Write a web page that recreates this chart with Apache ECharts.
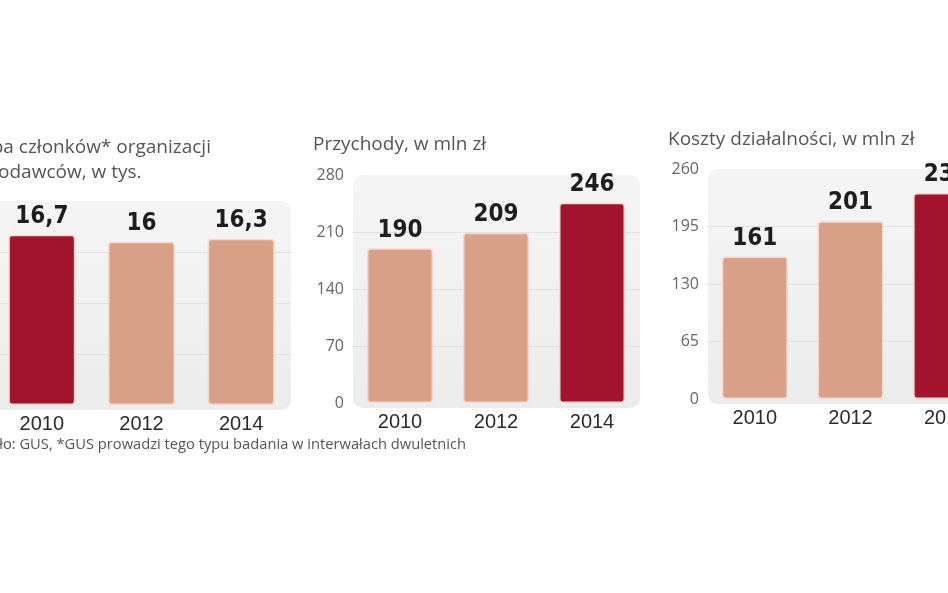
<!DOCTYPE html>
<html>
<head>
<meta charset="utf-8">
<script src="https://cdn.jsdelivr.net/npm/echarts@6/dist/echarts.min.js"></script>
<style>
html,body{margin:0;padding:0;background:#fff;overflow:hidden;width:948px;height:593px;}
#c{position:absolute;left:-100px;top:0;width:1148px;height:593px;}
</style>
</head>
<body>
<div id="c"></div>
<script>
// ---- data ----
const categories = ['2010', '2012', '2014'];
const members = [16.7, 16, 16.3];      // tys.
const revenue = [190, 209, 246];       // mln zł
const costs = [161, 201, 233];         // mln zł
const membersTicks = [0, 20, 5];       // min, max, interval
const revenueTicks = [0, 280, 70];
const costsTicks = [0, 260, 65];
const titles = [
  'Liczba członków* organizacji\npracodawców, w tys.',
  'Przychody, w mln zł',
  'Koszty działalności, w mln zł'
];
const footnote = 'Źródło: GUS, *GUS prowadzi tego typu badania w interwałach dwuletnich';

// ---- layout / style ----
const OFF = 100; // container is shifted left so charts can bleed off the page edges
const DARK = '#a3142c', LIGHT = '#d9a088';
const grids = [
  {left: -8 + OFF, top: 201, width: 299, height: 204},
  {left: 352 + OFF, top: 175, width: 288, height: 228},
  {left: 707 + OFF, top: 169, width: 287, height: 230}
];
const barW = [67, 66, 66];
const sets = [members, revenue, costs];
const ticks = [membersTicks, revenueTicks, costsTicks];
const LABEL_FONT = '"DejaVu Sans Condensed", "Liberation Sans Narrow", sans-serif';
const TEXT_FONT = '"Open Sans", "Liberation Sans", sans-serif';

const chart = echarts.init(document.getElementById('c'), null, {renderer: 'canvas'});

const xAxis = [], yAxis = [], series = [];
sets.forEach((vals, i) => {
  const mx = Math.max(...vals);
  const nLines = Math.round((ticks[i][1] - ticks[i][0]) / ticks[i][2]) + 1;
  const lineColors = [];
  for (let k = 0; k < nLines; k++) lineColors.push(k === 0 || k === nLines - 1 ? 'rgba(0,0,0,0)' : '#e1e1e1');
  xAxis.push({
    type: 'category', gridIndex: i, data: categories,
    axisLine: {show: false}, axisTick: {show: false},
    axisLabel: {color: '#2b2b2b', fontSize: 20, fontFamily: '"Liberation Sans", sans-serif', margin: 9}
  });
  yAxis.push({
    type: 'value', gridIndex: i, min: ticks[i][0], max: ticks[i][1], interval: ticks[i][2],
    axisLine: {show: false}, axisTick: {show: false},
    axisLabel: {show: i > 0, color: '#666', fontSize: 16, fontFamily: TEXT_FONT, margin: 8},
    splitLine: {show: true, lineStyle: {color: lineColors, width: 1}}
  });
  series.push({
    type: 'bar', xAxisIndex: i, yAxisIndex: i, barWidth: barW[i],
    data: vals.map(v => ({
      value: v,
      itemStyle: {color: v === mx ? DARK : LIGHT}
    })),
    itemStyle: {borderColor: '#f4d9d0', borderWidth: 1.5, borderRadius: 3},
    label: {
      show: true, position: 'top', distance: 6,
      formatter: p => String(p.value).replace('.', ','),
      fontFamily: LABEL_FONT, fontWeight: 'bold', fontSize: 24, color: '#1e1e1e'
    },
    z: 3
  });
});

const graphics = [];
grids.forEach((g, i) => {
  graphics.push({
    type: 'rect', z: -10, silent: true,
    shape: {x: g.left + 1, y: g.top, width: g.width - 1, height: g.height + 5, r: 10},
    style: {
      fill: new echarts.graphic.LinearGradient(0, 0, 0, 1, [
        {offset: 0, color: '#f5f5f5'}, {offset: 1, color: '#ececec'}
      ])
    }
  });
});
graphics.push({
  type: 'text', left: -41 + OFF, top: 135, silent: true,
  style: {text: titles[0], fontSize: 19, lineHeight: 25, fontFamily: TEXT_FONT, fill: '#555'}
});
graphics.push({
  type: 'text', left: 313 + OFF, top: 135, silent: true,
  style: {text: titles[1], fontSize: 19, fontFamily: TEXT_FONT, fill: '#555'}
});
graphics.push({
  type: 'text', left: 668 + OFF, top: 130, silent: true,
  style: {text: titles[2], fontSize: 19, fontFamily: TEXT_FONT, fill: '#555'}
});
graphics.push({
  type: 'text', left: -33 + OFF, top: 437, silent: true,
  style: {text: footnote, fontSize: 14.7, fontFamily: TEXT_FONT, fill: '#555'}
});

chart.setOption({
  backgroundColor: '#ffffff',
  animation: false,
  grid: grids.map(g => Object.assign({containLabel: false}, g)),
  xAxis, yAxis, series,
  graphic: {elements: graphics}
});
</script>
</body>
</html>
